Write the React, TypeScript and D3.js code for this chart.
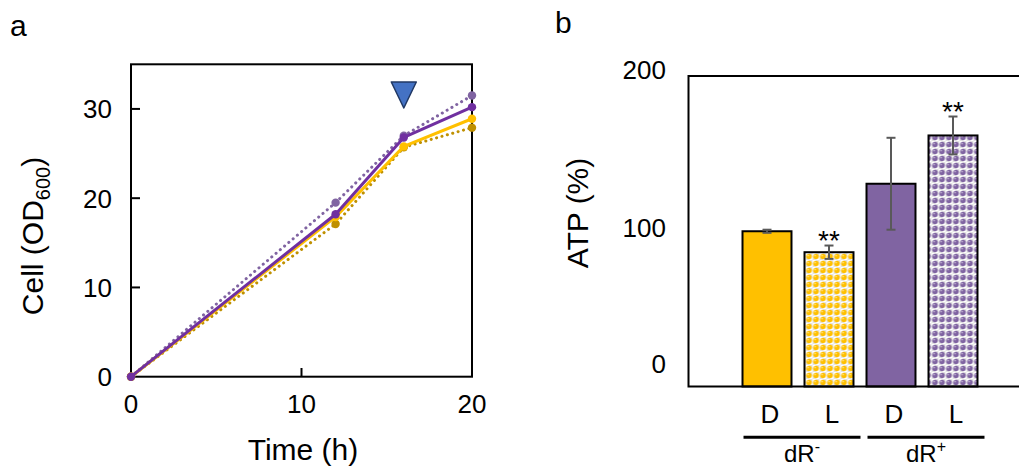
import React from 'react'
import * as d3 from 'd3'

// panel a: growth curves
const times = [0, 12, 16, 20]
const purpleSolid = [0, 18.2, 26.8, 30.2]
const yellowSolid = [0, 17.9, 25.8, 28.9]
const purpleDotted = [0, 19.5, 27.0, 31.5]
const goldDotted = [0, 17.1, 25.7, 27.9]
const cellTicks = [0, 10, 20, 30]
const timeTicks = [0, 10, 20]
const arrowTime = 16
const arrowTipValue = 30.1

// panel b: ATP bars
const conditions = ['D', 'L', 'D', 'L']
const atpMeans = [100, 86.5, 130.6, 161.7]
const atpErrors = [1, 4.3, 29.6, 12.2]
const significant = [false, true, false, true]
const groups = ['dR-', 'dR+']
const groupSuper = ['-', '+']
const atpTicks = [0, 100, 200]

const FONT = 'Liberation Sans, Arial, sans-serif'

const seriesA = [
  { values: purpleDotted, color: '#8064A2', dotted: true },
  { values: goldDotted, color: '#BF9000', dotted: true },
  { values: yellowSolid, color: '#FFC000', dotted: false },
  { values: purpleSolid, color: '#7030A0', dotted: false },
]

const barFill = ['#FFC000', 'url(#dotsYellow)', '#8064A2', 'url(#dotsPurple)']

export default function App() {
  // panel a scales
  const xA = d3.scaleLinear().domain([0, 20]).range([131, 472])
  const yA = d3.scaleLinear().domain([0, 35]).range([376.7, 64.3])
  const line = d3.line<number>().x((_, i) => xA(times[i])).y(d => yA(d))

  // panel b scales
  const xB = d3.scaleBand<number>().domain(d3.range(conditions.length)).range([736, 984]).paddingInner(0.21).paddingOuter(0.105)
  const yB = d3.scaleLinear().domain([0, 200]).range([386.5, 76])
  const bw = xB.bandwidth()
  const labelNudge: Record<number, number> = { 0: -23, 100: -4, 200: -6 }

  const ax = xA(arrowTime)
  const ay = yA(arrowTipValue)

  return (
    <svg width={1019} height={469} style={{ position: 'absolute', left: 0, top: 0, background: '#fff' }} fontFamily={FONT}>
      <defs>
        {[['dotsYellow', '#FFC000'], ['dotsPurple', '#8064A2']].map(([id, c]) => (
          <pattern key={id} id={id} width={7} height={7} patternUnits="userSpaceOnUse" x={0.5} y={1}>
            <rect width={7} height={7} fill="#e2e2e2" />
            <rect width={3.5} height={3.5} fill="#ffffff" />
            <rect x={3.5} y={3.5} width={3.5} height={3.5} fill="#ffffff" />
            <circle cx={3.5} cy={3.5} r={2.8} fill={c} />
            <circle cx={2.6} cy={2.6} r={0.8} fill="#ffffff" opacity={0.6} />
          </pattern>
        ))}
      </defs>

      {/* ---------- panel a ---------- */}
      <text x={10} y={36} fontSize={30}>a</text>
      <rect x={131} y={64.3} width={341} height={312.4} fill="none" stroke="#000" strokeWidth={2} />
      {cellTicks.map(t => (
        <g key={'ya' + t}>
          {t > 0 && <line x1={131} x2={140} y1={yA(t)} y2={yA(t)} stroke="#000" strokeWidth={2} />}
          <text x={112} y={yA(t)} dy="0.36em" textAnchor="end" fontSize={26}>{t}</text>
        </g>
      ))}
      {timeTicks.map(t => (
        <g key={'xa' + t}>
          {t > 0 && t < 20 && <line x1={xA(t)} x2={xA(t)} y1={376.7} y2={368} stroke="#000" strokeWidth={2} />}
          <text x={xA(t)} y={413} textAnchor="middle" fontSize={26}>{t}</text>
        </g>
      ))}
      <text x={303} y={460} textAnchor="middle" fontSize={30}>Time (h)</text>
      <text transform="translate(43,236) rotate(-90)" textAnchor="middle" fontSize={30}>
        Cell (OD<tspan fontSize={20} dy={7}>600</tspan><tspan dy={-7}>)</tspan>
      </text>

      {seriesA.map((s, k) => (
        <g key={'s' + k}>
          <path d={line(s.values) || ''} fill="none" stroke={s.color} strokeWidth={3}
            strokeDasharray={s.dotted ? '0.1 5.5' : undefined} strokeLinecap={s.dotted ? 'round' : 'butt'} strokeLinejoin="round" />
          {s.values.map((v, i) => (
            <circle key={i} cx={xA(times[i])} cy={yA(v)} r={4.2} fill={s.color} />
          ))}
        </g>
      ))}

      <path d={`M${ax - 12.5},${ay - 26} L${ax + 12.5},${ay - 26} L${ax},${ay} Z`} fill="#4472C4" stroke="#203864" strokeWidth={1.5} strokeLinejoin="round" />

      {/* ---------- panel b ---------- */}
      <text x={555} y={33} fontSize={30}>b</text>
      <text transform="translate(588,213) rotate(-90)" textAnchor="middle" fontSize={30}>ATP (%)</text>
      {atpTicks.map(t => (
        <text key={'yb' + t} x={666} y={yB(t) + labelNudge[t]} dy="0.36em" textAnchor="end" fontSize={26}>{t}</text>
      ))}

      {atpMeans.map((v, i) => (
        <rect key={'bar' + i} x={xB(i)} y={yB(v)} width={bw} height={yB(0) - yB(v)} fill={barFill[i]} stroke="#000" strokeWidth={2} />
      ))}
      <path d={`M1030,76 H688.5 V386.5 H1030`} fill="none" stroke="#000" strokeWidth={2} />

      {atpMeans.map((v, i) => {
        const cx = (xB(i) as number) + bw / 2
        const top = yB(v + atpErrors[i])
        const bot = yB(v - atpErrors[i])
        return (
          <g key={'err' + i} stroke="#595959" strokeWidth={2}>
            <line x1={cx} x2={cx} y1={top} y2={bot} />
            <line x1={cx - 4.5} x2={cx + 4.5} y1={top} y2={top} />
            <line x1={cx - 4.5} x2={cx + 4.5} y1={bot} y2={bot} />
          </g>
        )
      })}
      {significant.map((s, i) => s && (
        <text key={'sig' + i} x={(xB(i) as number) + bw / 2} y={yB(atpMeans[i] + atpErrors[i]) + 4} textAnchor="middle" fontSize={28}>**</text>
      ))}

      {conditions.map((c, i) => (
        <text key={'c' + i} x={(xB(i) as number) + bw / 2 + 3} y={423} textAnchor="middle" fontSize={26}>{c}</text>
      ))}
      {groups.map((g, gi) => {
        const x0 = (xB(gi * 2) as number) + 1
        const x1 = (xB(gi * 2 + 1) as number) + bw + 7
        return (
          <g key={'g' + gi}>
            <line x1={x0} x2={x1} y1={437.3} y2={437.3} stroke="#000" strokeWidth={3} />
            <text x={(x0 + x1) / 2} y={462} textAnchor="middle" fontSize={24}>
              dR<tspan fontSize={16} dy={-10}>{groupSuper[gi]}</tspan>
            </text>
          </g>
        )
      })}
    </svg>
  )
}
